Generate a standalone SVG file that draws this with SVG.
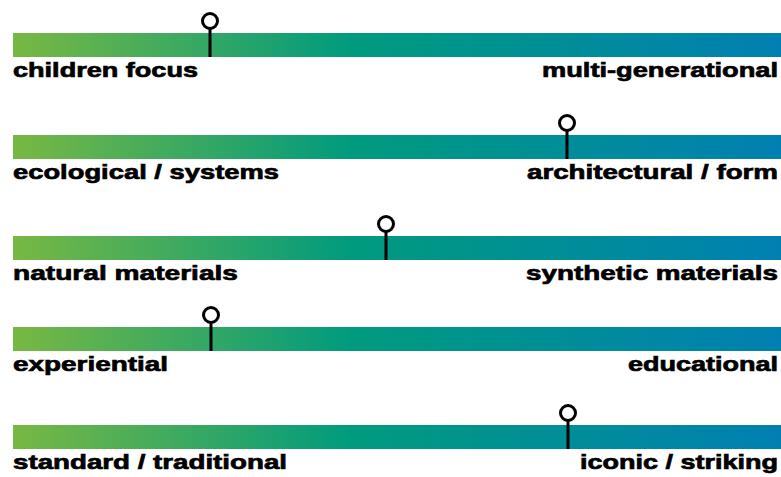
<svg xmlns="http://www.w3.org/2000/svg" width="781" height="477" viewBox="0 0 781 477">
<defs>
<linearGradient id="g" gradientUnits="userSpaceOnUse" x1="13" y1="0" x2="781" y2="0">
<stop offset="0" stop-color="#78b843"/>
<stop offset="0.44" stop-color="#009b7e"/>
<stop offset="1" stop-color="#0080b2"/>
</linearGradient>
<style>
.bar{fill:url(#g)}
.lbl{font-family:"Liberation Sans",Arial,sans-serif;font-weight:bold;font-size:21px;fill:#000;stroke:#000;stroke-width:0.7}
.end{text-anchor:end}
.pin{fill:none;stroke:#000;stroke-width:3}
</style>
</defs>
<rect width="781" height="477" fill="#fff"/>
<g id="scale1">
<rect class="bar" x="13" y="33" width="768" height="24"/>
<text class="lbl" x="13" y="77" textLength="185" lengthAdjust="spacingAndGlyphs">children focus</text>
<text class="lbl end" x="778" y="77" textLength="236" lengthAdjust="spacingAndGlyphs">multi-generational</text>
<g id="marker1"><circle class="pin" cx="210" cy="21" r="7.5"/><line class="pin" x1="210" y1="28.5" x2="210" y2="57"/></g>
</g>
<g id="scale2">
<rect class="bar" x="13" y="135" width="768" height="24"/>
<text class="lbl" x="13" y="179" textLength="266" lengthAdjust="spacingAndGlyphs">ecological / systems</text>
<text class="lbl end" x="778" y="179" textLength="251" lengthAdjust="spacingAndGlyphs">architectural / form</text>
<g id="marker2"><circle class="pin" cx="567" cy="123" r="7.5"/><line class="pin" x1="567" y1="130.5" x2="567" y2="159"/></g>
</g>
<g id="scale3">
<rect class="bar" x="13" y="236" width="768" height="24"/>
<text class="lbl" x="13" y="280" textLength="225" lengthAdjust="spacingAndGlyphs">natural materials</text>
<text class="lbl end" x="778" y="280" textLength="252" lengthAdjust="spacingAndGlyphs">synthetic materials</text>
<g id="marker3"><circle class="pin" cx="386" cy="224" r="7.5"/><line class="pin" x1="386" y1="231.5" x2="386" y2="260"/></g>
</g>
<g id="scale4">
<rect class="bar" x="13" y="327" width="768" height="24"/>
<text class="lbl" x="13" y="371" textLength="155" lengthAdjust="spacingAndGlyphs">experiential</text>
<text class="lbl end" x="778" y="371" textLength="150" lengthAdjust="spacingAndGlyphs">educational</text>
<g id="marker4"><circle class="pin" cx="211" cy="315" r="7.5"/><line class="pin" x1="211" y1="322.5" x2="211" y2="351"/></g>
</g>
<g id="scale5">
<rect class="bar" x="13" y="425" width="768" height="24"/>
<text class="lbl" x="13" y="469" textLength="274" lengthAdjust="spacingAndGlyphs">standard / traditional</text>
<text class="lbl end" x="778" y="469" textLength="198" lengthAdjust="spacingAndGlyphs">iconic / striking</text>
<g id="marker5"><circle class="pin" cx="568" cy="413" r="7.5"/><line class="pin" x1="568" y1="420.5" x2="568" y2="449"/></g>
</g>
<g id="connectors"/>
</svg>
